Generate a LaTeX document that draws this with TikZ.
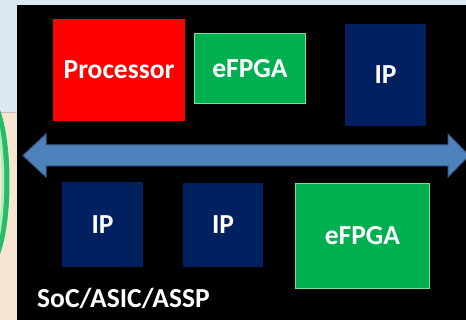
\documentclass[tikz,border=0pt]{standalone}
\usepackage{fontspec}
\setmainfont{Carlito}
\definecolor{fundoazul}{RGB}{221,233,240}
\definecolor{fundobege}{RGB}{247,229,212}
\definecolor{vermelho}{RGB}{255,0,0}
\definecolor{verde}{RGB}{0,176,80}
\definecolor{verdeclaro}{RGB}{120,226,150}
\definecolor{marinho}{RGB}{0,32,96}
\definecolor{azulseta}{RGB}{79,129,189}
\definecolor{bordaseta}{RGB}{56,93,138}
\begin{document}
\begin{tikzpicture}[x=1pt, y=-1pt,
            bloco/.style={shape=rectangle, inner sep=0pt, text=white, font=\fontsize{27.5}{33}\selectfont\bfseries},
            proc/.style={bloco, fill=vermelho},
            fpga/.style={bloco, fill=verde, draw=verdeclaro, line width=1.5pt},
            ip/.style={bloco, fill=marinho},
            seta/.style={fill=azulseta, draw=bordaseta, line width=1pt},
        ]
        \useasboundingbox (0,0) rectangle (466,320);
        \fill[fundoazul] (0,0) rectangle (466,112);
        \fill[fundobege] (0,112) rectangle (466,320);
        \draw[black!25, line width=0.8pt] (0,112) -- (17,112);
        \draw[verde!85!white, line width=7pt] (-14,182) ellipse [x radius=20, y radius=84];
        \draw[verdeclaro!60!white, line width=2.5pt] (-14,182) ellipse [x radius=17, y radius=81];
        \fill[black] (17,5) rectangle (470,325);

        \node[proc, minimum width=132, minimum height=102] (proc) at (119, 70) {Processor};
        \node[fpga, minimum width=111, minimum height=70] (fpgaa) at (250, 68.5) {eFPGA};
        \node[ip, minimum width=81, minimum height=102] (ipa) at (385.5, 75) {IP};
        \node[ip, minimum width=81, minimum height=85] (ipb) at (102.5, 224.5) {IP};
        \node[ip, minimum width=80, minimum height=84] (ipc) at (223, 225) {IP};
        \node[fpga, minimum width=134, minimum height=105] (fpgab) at (362.5, 236) {eFPGA};
        \node[bloco, anchor=base west] (chip) at (37, 308) {SoC/ASIC/ASSP};

        \draw[seta] (23,155.5) -- (46,134) -- (46,145) -- (448,145) -- (448,134)
            -- (469,155.5) -- (448,177) -- (448,166) -- (46,166) -- (46,177) -- cycle;

    \end{tikzpicture}
\end{document}
